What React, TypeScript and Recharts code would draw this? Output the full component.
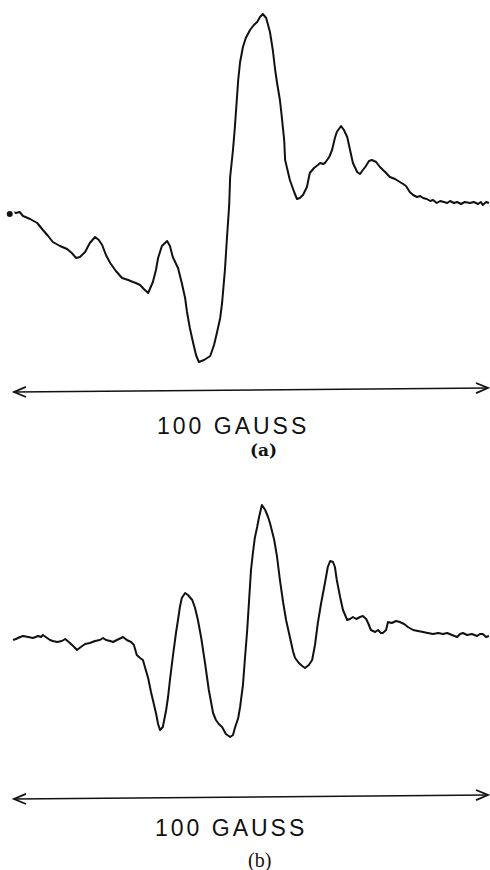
import React from 'react';
import { LineChart, Line, XAxis, YAxis, ReferenceLine } from 'recharts';

// Spectrum (a): magnetic field (gauss, relative to arrow start) and signal (arb. units)
const fieldA = [
  -0.9, -0.6, -0.3, 0.4, 1.2, 1.9, 3.4, 4.9, 6.1, 7.2, 8.2, 9.7, 11.2, 12.2, 13.1, 13.9, 15.0, 16.0, 17.1, 17.9,
  18.6, 19.4, 20.3, 21.5, 22.8, 24.1, 25.1, 25.7, 26.6, 27.4, 28.3, 29.3, 29.95, 30.4, 31.2, 32.3,
  32.9, 33.5, 34.6, 35.4, 36.1, 36.5, 37.1, 37.8, 38.4, 39.0, 40.1, 41.4, 42.2, 42.8, 43.5, 43.9,
  44.5, 44.9, 45.4, 45.6, 46.2, 46.6, 47.0, 47.3, 47.7, 48.3, 48.9, 49.8, 50.6, 51.3, 51.9, 52.5,
  53.2, 54.0, 54.6, 55.1, 55.5, 56.1, 56.5, 57.0, 57.2, 57.8, 58.2, 59.1, 59.7, 60.3, 60.97, 61.8,
  62.4, 63.3, 64.1, 64.6, 65.2, 65.6, 66.5, 67.1, 67.7, 68.1, 69.0, 69.6, 70.3, 70.9, 71.5, 72.4,
  73.0, 73.6, 74.1, 74.9, 75.5, 76.4, 77.2, 78.3, 79.3, 80.4, 81.4, 82.1, 82.7, 83.5, 84.2, 85.0,
  85.7, 86.3, 87.1, 87.8, 88.4, 89.2, 89.9, 90.7, 91.4, 92.0, 92.8, 93.5, 94.3, 95.1, 96.2, 97.0,
  97.9, 98.5, 98.9, 99.6, 100.2,
];
const intensityA = [
  -10, -9, -8, -9, -8, -12, -15, -19, -26, -32, -38, -42, -45, -49, -54, -53, -48, -39, -33, -36,
  -41, -51, -59, -67, -74, -76, -78, -79, -81, -85, -89, -78, -66, -54, -42, -37,
  -42, -53, -64, -79, -94, -108, -124, -139, -151, -158, -156, -152, -141, -129, -114, -99,
  -66, -36, -1, 27, 54, 77, 104, 124, 142, 157, 166, 174, 179, 182, 187, 190,
  186, 172, 154, 134, 121, 104, 87, 64, 44, 32, 24, 12, 5, 6, 9, 17,
  31, 36, 39, 41, 40, 41, 47, 54, 66, 72, 78, 74, 67, 54, 41, 32,
  30, 34, 37, 43, 44, 42, 37, 32, 27, 25, 22, 20, 18, 12, 9, 7,
  8, 6, 5, 3, 4, 1, 3, 2, 1, 3, 1, 2, 0, 2, 1, 2,
  0, 2, -1, 2, 1,
];

// Spectrum (b)
const fieldB = [
  -0.2, 0.4, 1.3, 1.9, 3.0, 4.0, 5.1, 5.7, 6.1, 7.0, 7.6, 8.2, 9.1, 10.1, 10.8, 11.8, 12.7, 13.3,
  14.1, 15.0, 16.0, 17.1, 18.1, 18.8, 19.4, 20.3, 20.9, 21.7, 22.6, 23.0, 23.8, 24.7, 25.3, 25.9,
  26.6, 27.2, 27.8, 28.3, 28.9, 29.3, 29.95, 30.4, 30.8, 31.4, 32.1, 32.5, 32.9, 33.5, 34.2, 34.6,
  35.0, 35.4, 36.1, 36.7, 37.6, 38.2, 38.8, 39.5, 40.3, 41.1, 42.0, 42.6, 43.2, 43.9, 44.7, 45.6,
  46.2, 46.6, 47.3, 47.7, 48.3, 48.7, 49.2, 49.6, 50.0, 50.4, 50.8, 51.3, 51.7, 52.3, 53.0, 53.6,
  54.0, 54.9, 55.5, 56.1, 56.8, 57.4, 58.2, 58.9, 59.3, 60.1, 60.8, 61.4, 62.2, 62.9, 63.5, 64.1,
  64.8, 65.6, 66.2, 66.7, 67.3, 67.7, 68.1, 68.8, 69.4, 70.3, 70.9, 71.5, 72.2, 73.0, 73.6, 74.3,
  74.7, 75.3, 76.2, 76.8, 77.4, 77.8, 78.5, 78.9, 79.7, 80.6, 81.4, 82.3, 83.1, 84.2, 85.2, 86.3,
  87.3, 88.4, 89.5, 90.5, 91.4, 92.4, 93.5, 94.1, 94.7, 95.6, 96.6, 97.7, 98.3, 98.9, 99.6, 100.2,
];
const intensityB = [
  -4, -3, -1, 0, -1, -2, 0, -1, 1, -2, -4, -5, -6, -5, -3, -7, -11, -14,
  -11, -8, -7, -5, -4, -2, -4, -5, -6, -4, -2, -1, -4, -6, -9, -19,
  -22, -24, -34, -42, -56, -64, -77, -88, -94, -91, -74, -61, -44, -21, 4, 16,
  29, 38, 43, 41, 36, 28, 16, -2, -27, -54, -77, -84, -88, -91, -98, -101,
  -99, -92, -82, -71, -49, -24, 6, 36, 66, 83, 98, 109, 119, 131, 126, 119,
  113, 96, 79, 56, 33, 16, -1, -16, -22, -27, -30, -32, -29, -24, -9, 13,
  33, 53, 69, 75, 74, 69, 56, 39, 26, 16, 17, 19, 17, 19, 20, 17,
  13, 6, 4, 6, 3, 3, 6, 14, 13, 15, 14, 12, 9, 6, 5, 4,
  3, 2, 3, 2, 3, 1, -1, 2, 3, 1, 2, 0, 2, 2, -1, 0,
];

const scaleLabel = '100 GAUSS';
const panelLabels = ['(a)', '(b)'];

// layout: the 100 G arrow runs from x=14 to x=488
const ARROW_LEFT = 14;
const PX_PER_GAUSS = 4.74;
const WIDTH = 490;
const xDomain: [number, number] = [-ARROW_LEFT / PX_PER_GAUSS, (WIDTH - ARROW_LEFT) / PX_PER_GAUSS];

const dataA = fieldA.map((f, i) => ({ field: f, signal: intensityA[i] }));
const dataB = fieldB.map((f, i) => ({ field: f, signal: intensityB[i] }));

const ArrowShape = (props: any) => {
  const { x1, y1, x2, y2 } = props;
  const ang = Math.atan2(y2 - y1, x2 - x1);
  const len = 13;
  const spread = 0.4;
  const head = (x: number, y: number, dir: number) => {
    const a = ang + (dir < 0 ? Math.PI : 0);
    const bx1 = x - len * Math.cos(a - spread);
    const by1 = y - len * Math.sin(a - spread);
    const bx2 = x - len * Math.cos(a + spread);
    const by2 = y - len * Math.sin(a + spread);
    return `${bx1},${by1} ${x},${y} ${bx2},${by2}`;
  };
  return (
    <g>
      <line x1={x1} y1={y1} x2={x2} y2={y2} stroke="#111" strokeWidth={1.6} />
      <polyline points={head(x1, y1, -1)} fill="none" stroke="#111" strokeWidth={1.8} />
      <polyline points={head(x2, y2, 1)} fill="none" stroke="#111" strokeWidth={1.8} />
    </g>
  );
};

const Spectrum = ({ data, height, yDomain, arrowY }: { data: any[]; height: number; yDomain: [number, number]; arrowY: [number, number] }) => (
  <LineChart width={WIDTH} height={height} data={data} margin={{ top: 0, right: 0, bottom: 0, left: 0 }}>
    <XAxis dataKey="field" type="number" domain={xDomain} hide />
    <YAxis type="number" domain={yDomain} hide />
    <ReferenceLine
      segment={[{ x: 0, y: arrowY[0] }, { x: 100, y: arrowY[1] }]}
      shape={ArrowShape}
      ifOverflow="visible"
    />
    <Line type="linear" dataKey="signal" stroke="#111" strokeWidth={2} strokeLinejoin="round" dot={false} isAnimationActive={false} />
  </LineChart>
);

const App = () => {
  return (
    <div style={{ position: 'absolute', left: 0, top: 0, width: WIDTH, height: 870, background: '#fff', overflow: 'hidden' }}>
      <div style={{ position: 'absolute', left: 0, top: 0 }}>
        <Spectrum data={dataA} height={470} yDomain={[-266, 204]} arrowY={[-188, -184]} />
      </div>
      <div style={{ position: 'absolute', left: 0, top: 470 }}>
        <Spectrum data={dataB} height={400} yDomain={[-234, 166]} arrowY={[-163, -159]} />
      </div>
      <svg width={WIDTH} height={870} style={{ position: 'absolute', left: 0, top: 0, pointerEvents: 'none' }}>
        <text x={157} y={434} fontFamily="Liberation Sans, Arial, sans-serif" fontSize={23} letterSpacing={3} fill="#111">
          {scaleLabel}
        </text>
        <text x={250} y={456} fontFamily="DejaVu Serif, serif" fontSize={17} fontWeight="bold" fill="#111">
          {panelLabels[0]}
        </text>
        <text x={155} y={836} fontFamily="Liberation Sans, Arial, sans-serif" fontSize={23} letterSpacing={3} fill="#111">
          {scaleLabel}
        </text>
        <text x={248} y={867} fontFamily="Liberation Serif, serif" fontSize={20} fill="#111">
          {panelLabels[1]}
        </text>
      </svg>
    </div>
  );
};

export default App;
